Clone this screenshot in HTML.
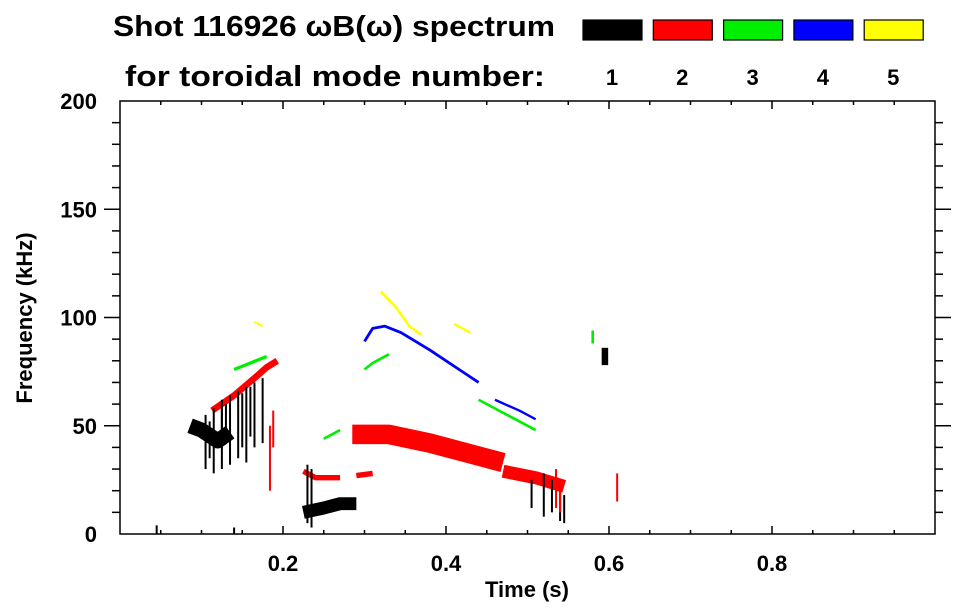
<!DOCTYPE html>
<html><head><meta charset="utf-8"><style>
body{margin:0;background:#fff;}
svg{display:block;font-family:"Liberation Sans",sans-serif;font-weight:bold;}
</style></head><body>
<svg id="chart" width="963" height="615" viewBox="0 0 963 615">
<text x="113" y="36" font-size="29" textLength="442" lengthAdjust="spacingAndGlyphs">Shot 116926 ωB(ω) spectrum</text>
<text x="125" y="86" font-size="29" textLength="420" lengthAdjust="spacingAndGlyphs">for toroidal mode number:</text>
<g id="legend"></g>
<g id="axes"></g>
<g id="marks"></g>
<text x="527" y="597" font-size="22" text-anchor="middle">Time (s)</text>
<text transform="translate(32,318) rotate(-90)" font-size="22" text-anchor="middle">Frequency (kHz)</text>
</svg>
<script>
const modeNumbers=[1,2,3,4,5];
const modeColors=['#000000','#ff0000','#00ee00','#0000ff','#ffff00'];
const xTicks=[0.2,0.4,0.6,0.8];
const yTicks=[0,50,100,150,200];
// traces: [mode, width(kHz), points [t,f]...]
const traceModes=[2,2,2,2,2,3,3,3,3,3,4,4,5,5,5,1,1,1];
const traceWidths=[3,2.5,9,6,2.5,1.5,1.2,1.2,1.2,1.2,1.3,1.1,1.2,1.1,1,7,6,3];
const tracePoints=[
[[0.113,57],[0.14,64],[0.165,72],[0.18,77],[0.193,80]],
[[0.225,29],[0.24,26],[0.27,26]],
[[0.285,46],[0.33,46],[0.38,42],[0.43,37],[0.47,33]],
[[0.47,29],[0.51,26],[0.545,22]],
[[0.29,27],[0.31,28]],
[[0.14,76],[0.16,79],[0.18,82]],
[[0.25,44],[0.27,48]],
[[0.30,76],[0.31,79],[0.33,83]],
[[0.44,62],[0.47,56],[0.51,48]],
[[0.58,88],[0.58,94]],
[[0.30,89],[0.31,95],[0.325,96],[0.345,93],[0.38,85],[0.42,75],[0.44,70]],
[[0.46,62],[0.49,57],[0.51,53]],
[[0.32,112],[0.34,104],[0.355,96],[0.37,92]],
[[0.41,97],[0.43,93]],
[[0.165,98],[0.175,96]],
[[0.086,50],[0.10,48],[0.12,43],[0.135,47]],
[[0.225,10],[0.25,12],[0.27,14],[0.29,14]],
[[0.595,78],[0.595,86]]
];
// vertical streaks: [mode, t, fLow, fHigh]
const streakModes=[1,1,1,1,1,1,1,1,1,1,1,1,1,1,1,1,2,2,1,1,1,1,2,2,2,1,1];
const streakT=[0.105,0.11,0.115,0.125,0.13,0.135,0.145,0.15,0.155,0.165,0.175,0.52,0.53,0.54,0.505,0.545,0.184,0.188,0.23,0.235,0.045,0.14,0.535,0.54,0.61,0.125,0.16];
const streakLow=[30,35,28,30,45,32,35,40,33,40,42,8,10,6,12,5,20,40,5,3,0,0,12,10,15,45,45];
const streakHigh=[55,52,58,62,60,64,66,65,68,70,72,28,25,22,25,18,50,57,32,30,4,3,30,22,28,60,68];
const ns="http://www.w3.org/2000/svg";
const X0=120,X1=935,Y0=534,Y1=101;
const xs=t=>X0+t*(X1-X0);
const ys=f=>Y0-f*(Y0-Y1)/200;
const svg=document.getElementById('chart');
function mk(tag,attrs,parent){const e=document.createElementNS(ns,tag);for(const k in attrs)e.setAttribute(k,attrs[k]);parent.appendChild(e);return e;}
const axes=document.getElementById('axes');
const frame=mk('rect',{x:X0,y:Y1,width:X1-X0,height:Y0-Y1,fill:'none',stroke:'#000','stroke-width':1.5},axes);


for(let i=1;i<20;i++){const t=i*0.05;const maj=xTicks.some(v=>Math.abs(v-t)<1e-6);const L=maj?8:4;
 const a=mk('line',{x1:xs(t),x2:xs(t),y1:Y0,y2:Y0-L,stroke:'#000','stroke-width':1.5},axes);
 
 
 const b=mk('line',{x1:xs(t),x2:xs(t),y1:Y1,y2:Y1+L,stroke:'#000','stroke-width':1.5},axes);
 
 }
xTicks.forEach(v=>{const t=mk('text',{x:xs(v),y:571,'font-size':22,'text-anchor':'middle'},axes);t.textContent=v.toFixed(1);
 
 });
for(let f=10;f<200;f+=10){const maj=f%50===0;const L=maj?16:8;
 const a=mk('line',{x1:X0-L,x2:X0,y1:ys(f),y2:ys(f),stroke:'#000','stroke-width':1.5},axes);
 
 
 const b=mk('line',{x1:X1,x2:X1+L,y1:ys(f),y2:ys(f),stroke:'#000','stroke-width':1.5},axes);
 
 }
yTicks.forEach(v=>{const t=mk('text',{x:97,y:ys(v)+8,'font-size':22,'text-anchor':'end'},axes);t.textContent=v;
 
 });
const leg=document.getElementById('legend');
modeNumbers.forEach((n,i)=>{const x=583+i*70.3;
 const r=mk('rect',{x:x,y:20,width:59,height:20,fill:modeColors[i],stroke:'#000','stroke-width':1.2},leg);
 
 
 const t=mk('text',{x:x+29,y:85,'font-size':22,'text-anchor':'middle'},leg);t.textContent=n;
 
 });
const marks=document.getElementById('marks');
const kpx=(Y0-Y1)/200;
tracePoints.forEach((pts,i)=>{const m=traceModes[i];
 const p=mk('polyline',{points:pts.map(q=>xs(q[0])+','+ys(q[1])).join(' '),fill:'none',stroke:modeColors[m-1],'stroke-width':Math.max(2,traceWidths[i]*kpx),'stroke-linejoin':'round'},marks);
 
 });
streakT.forEach((t,i)=>{const m=streakModes[i];
 const l=mk('line',{x1:xs(t),x2:xs(t),y1:ys(streakLow[i]),y2:ys(streakHigh[i]),stroke:modeColors[m-1],'stroke-width':2},marks);
 
 });
</script>
</body></html>
